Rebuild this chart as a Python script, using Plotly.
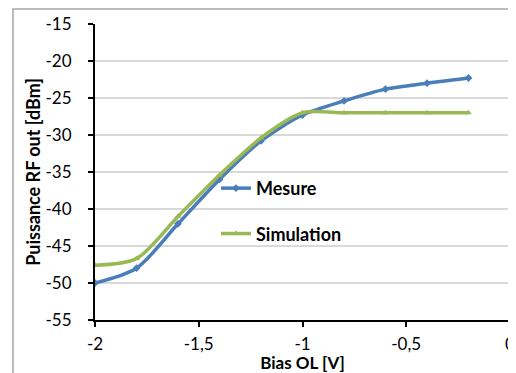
import plotly.graph_objects as go

bias = [-2.0, -1.8, -1.6, -1.4, -1.2, -1.0, -0.8, -0.6, -0.4, -0.2]
mesure = [-50.0, -48.0, -42.0, -36.0, -30.8, -27.3, -25.4, -23.8, -23.0, -22.3]
simulation = [-47.6, -46.7, -41.0, -35.4, -30.4, -27.0, -27.0, -27.0, -27.0, -27.0]

x_tickvals = [-2, -1.5, -1, -0.5, 0]
x_ticktext = ["-2", "-1,5", "-1", "-0,5", "0"]
y_tickvals = [-55, -50, -45, -40, -35, -30, -25, -20, -15]
y_ticktext = ["-55", "-50", "-45", "-40", "-35", "-30", "-25", "-20", "-15"]

FONT = "Lato"
BLUE = "#4A7EBB"
GREEN = "#98B954"

fig = go.Figure()
fig.add_trace(go.Scatter(
    x=bias, y=mesure, name="Mesure", mode="lines+markers",
    line=dict(color=BLUE, width=3.5, shape="spline", smoothing=0.8),
    marker=dict(symbol="diamond", size=6, color=BLUE),
    legendgroup="a",
))
fig.add_trace(go.Scatter(
    x=bias, y=simulation, name="Simulation", mode="lines+markers",
    line=dict(color=GREEN, width=3.5, shape="spline", smoothing=0.8),
    marker=dict(symbol="triangle-up", size=6, color=GREEN),
    legendgroup="b",
))

fig.update_layout(
    width=508, height=365,
    margin=dict(l=87, r=6, t=16, b=53),
    paper_bgcolor="white", plot_bgcolor="white",
    font=dict(family=FONT, size=17, color="black"),
    showlegend=True,
    legend=dict(
        x=0.2915, y=0.507, xanchor="left", yanchor="top",
        bgcolor="rgba(0,0,0,0)", font=dict(size=18, family=FONT, weight="bold"),
        tracegroupgap=19, traceorder="grouped",
    ),
    xaxis=dict(
        range=[-2, 0], tickvals=x_tickvals, ticktext=x_ticktext, automargin=False,
        showgrid=False, zeroline=False, showline=True, linecolor="black", linewidth=2,
        ticks="outside", ticklen=5, tickwidth=2, tickcolor="black",
        ticklabelstandoff=3, ticklabeloverflow="allow",
        title=dict(text="<b>Bias OL [V]</b>", font=dict(size=17), standoff=4),
    ),
    yaxis=dict(
        range=[-55, -15], tickvals=y_tickvals, ticktext=y_ticktext, automargin=False,
        showgrid=True, gridcolor="#D9D9D9", gridwidth=1.5, zeroline=False,
        showline=True, linecolor="black", linewidth=2,
        ticks="outside", ticklen=5, tickwidth=2, tickcolor="black",
        ticklabelstandoff=13,
        title=dict(text="<b>Puissance RF out [dBm]</b>", font=dict(size=18), standoff=0),
    ),
    shapes=[dict(type="rect", xref="paper", yref="paper",
                 x0=-0.1976, x1=1.03, y0=-0.3, y1=1.0507,
                 line=dict(color="#A6A6A6", width=1.5), layer="below")],
)

fig.write_html("out.html")
